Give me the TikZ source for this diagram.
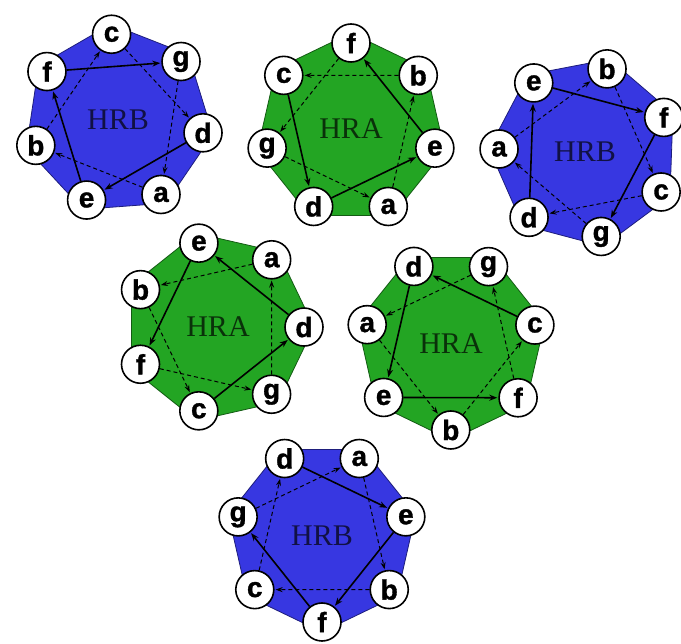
\documentclass[tikz,border=0pt]{standalone}
\usepackage{fontspec}
\setmainfont{Liberation Serif}
\newfontfamily\lblfont[FakeBold=1.2]{Liberation Sans}
\usetikzlibrary{arrows.meta}
\definecolor{hrb}{RGB}{55,55,225}
\definecolor{hra}{RGB}{35,165,35}
\tikzset{
  lbl/.style={circle,draw=black,fill=white,line width=1.6pt,minimum size=38pt,inner sep=0pt,
    font=\lblfont\bfseries\fontsize{28}{28}\selectfont},
  sld/.style={line width=1.6pt,-{Stealth[length=8pt,width=6pt]},shorten >=1pt},
  dsh/.style={line width=1pt,dash pattern=on 4pt off 3pt,-{Stealth[length=7pt,width=5pt]},shorten >=1pt},
  wtitle/.style={font=\fontsize{30}{30}\selectfont}
}
% #1 name, #2 cx, #3 cy, #4 angle of a, #5 direction, #6 colour, #7 title, #8 edge list
\newcommand\hwheel[8]{%
  \fill[fill=#6,draw=#6!55!black,line width=0.8pt]
    ({#2+96*cos(#4)},{#3-96*sin(#4)})
    \foreach \k in {1,...,6}{ -- ({#2+96*cos((#4)+(#5)*\k*360/7)},{#3-96*sin((#4)+(#5)*\k*360/7)}) } -- cycle;
  \node[wtitle,text=#6!30!black] (#1t) at (#2,#3) {#7};
  \foreach \l/\k in {a/0,d/1,g/2,c/3,f/4,b/5,e/6}
    \node[lbl] (#1\l) at ({#2+86*cos((#4)+(#5)*\k*360/7)},{#3-86*sin((#4)+(#5)*\k*360/7)}) {\l};
  \foreach \s/\t/\f in {#8}{%
    \ifnum\f=1 \draw[sld] (#1\s) -- (#1\t);\else \draw[dsh] (#1\s) -- (#1\t);\fi}%
}
\begin{document}
\begin{tikzpicture}[x=1pt,y=-1pt]
\useasboundingbox (0,0) rectangle (681,644);
\hwheel{wa}{118}{120}{-60}{1}{hrb}{HRB}{a/b/0,b/c/0,c/d/0,d/e/1,e/f/1,f/g/1,g/a/0}
\hwheel{wb}{351}{129}{-64.3}{-1}{hra}{HRA}{a/b/0,b/c/0,c/d/1,d/e/1,e/f/1,f/g/0,g/a/0}
\hwheel{wc}{585}{152}{178}{1}{hrb}{HRB}{a/b/0,b/c/0,c/d/0,d/e/1,e/f/1,f/g/1,g/a/0}
\hwheel{wd}{218}{327}{51.4}{-1}{hra}{HRA}{a/b/0,b/c/0,c/d/1,d/e/1,e/f/1,f/g/0,g/a/0}
\hwheel{we}{451}{344}{167}{-1}{hra}{HRA}{a/b/0,b/c/0,c/d/1,d/e/1,e/f/1,f/g/0,g/a/0}
\hwheel{wf}{322}{536}{64.3}{1}{hrb}{HRB}{a/b/0,b/c/0,c/d/0,d/e/1,e/f/1,f/g/1,g/a/0}
\end{tikzpicture}
\end{document}
